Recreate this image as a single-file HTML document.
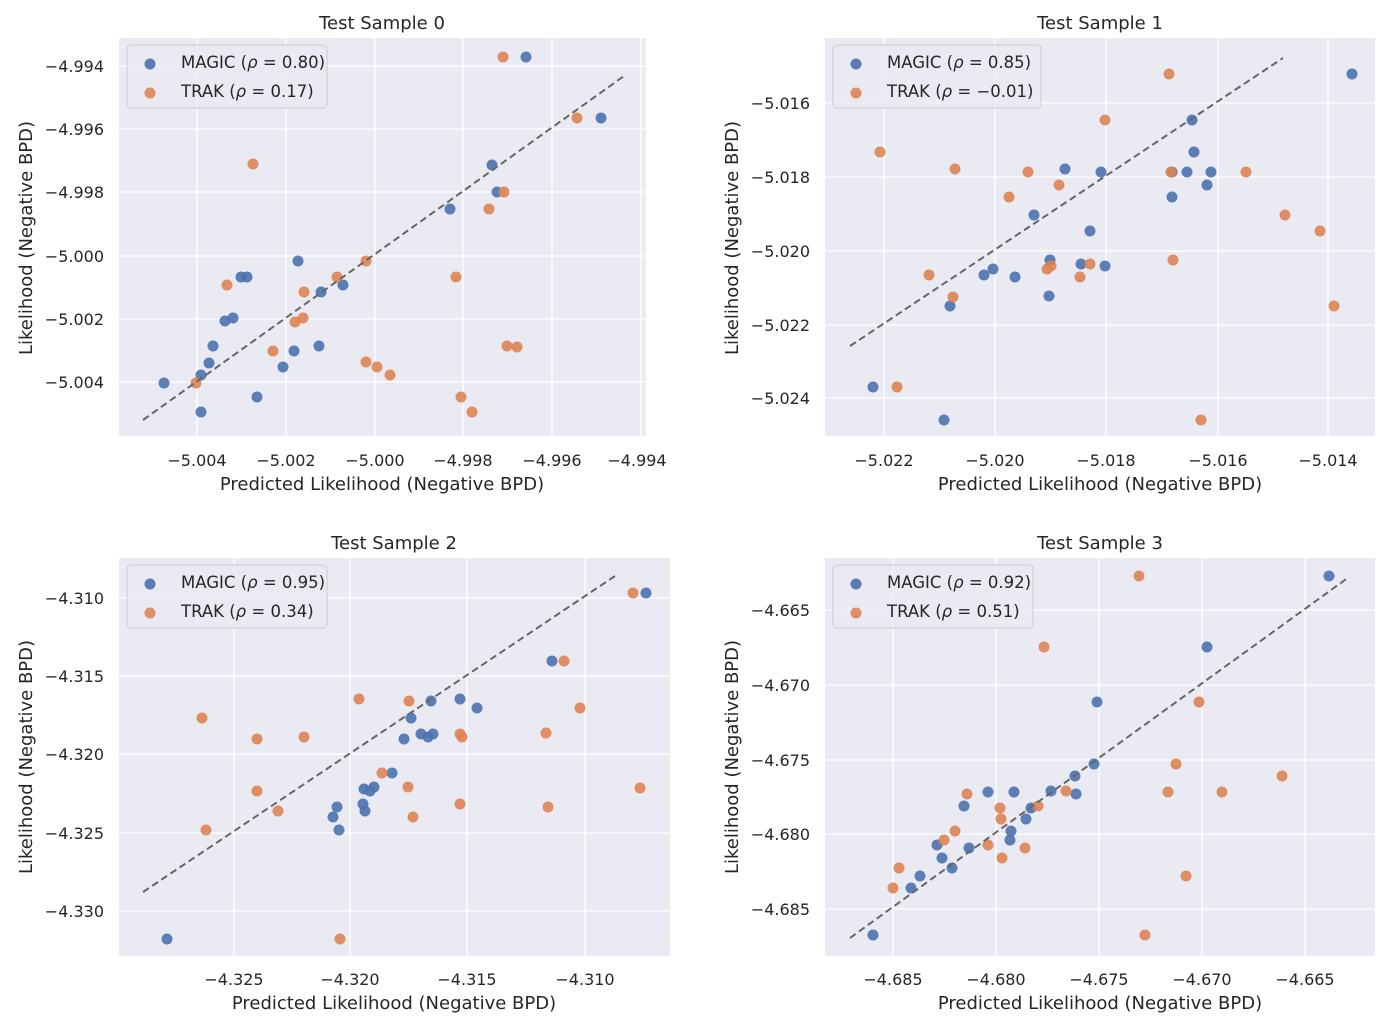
<!DOCTYPE html>
<html><head><meta charset="utf-8"><style>
html,body{margin:0;padding:0;background:#fff;}
svg{display:block;font-family:"DejaVu Sans","Liberation Sans",sans-serif;}
.t{font-size:18px;fill:#262626;text-anchor:middle}
.tk{font-size:16px;fill:#262626}
.bg{fill:#eaeaf2}
.g{stroke:#fff;stroke-width:1.3}
.b{fill:#4c72b0;fill-opacity:0.9}
.o{fill:#dd8452;fill-opacity:0.9}
.d{stroke:#666;stroke-width:2;stroke-dasharray:7,4;fill:none}
.lg{fill:#eaeaf2;stroke:#cccccc;stroke-width:1;fill-opacity:0.8}
.lt{font-size:16.5px;fill:#262626}
</style></head><body>
<svg width="1400" height="1028" viewBox="0 0 1400 1028">
<!-- Panel 0 -->
<rect class="bg" x="119" y="38" width="527" height="398"/>
<g class="g">
<line x1="197" y1="38" x2="197" y2="436"/><line x1="286" y1="38" x2="286" y2="436"/><line x1="375" y1="38" x2="375" y2="436"/><line x1="463" y1="38" x2="463" y2="436"/><line x1="552" y1="38" x2="552" y2="436"/><line x1="641" y1="38" x2="641" y2="436"/>
<line x1="119" y1="66" x2="646" y2="66"/><line x1="119" y1="129" x2="646" y2="129"/><line x1="119" y1="192" x2="646" y2="192"/><line x1="119" y1="256" x2="646" y2="256"/><line x1="119" y1="319" x2="646" y2="319"/><line x1="119" y1="382" x2="646" y2="382"/>
</g>
<g class="tk" text-anchor="middle">
<text x="197" y="466">−5.004</text><text x="286" y="466">−5.002</text><text x="375" y="466">−5.000</text><text x="463" y="466">−4.998</text><text x="552" y="466">−4.996</text><text x="637" y="466">−4.994</text>
</g>
<g class="tk" text-anchor="end">
<text x="104" y="72">−4.994</text><text x="104" y="135">−4.996</text><text x="104" y="198">−4.998</text><text x="104" y="262">−5.000</text><text x="104" y="325">−5.002</text><text x="104" y="388">−5.004</text>
</g>
<text class="t" x="382" y="29">Test Sample 0</text>
<text class="t" x="382" y="490">Predicted Likelihood (Negative BPD)</text>
<text class="t" transform="translate(32,238) rotate(-90)">Likelihood (Negative BPD)</text>
<g class="b">
<circle cx="526" cy="57" r="5.5"/><circle cx="601" cy="118" r="5.5"/><circle cx="492" cy="165" r="5.5"/><circle cx="497" cy="192" r="5.5"/><circle cx="450" cy="209" r="5.5"/><circle cx="298" cy="261" r="5.5"/><circle cx="241" cy="277" r="5.5"/><circle cx="247" cy="277" r="5.5"/><circle cx="343" cy="285" r="5.5"/><circle cx="321" cy="292" r="5.5"/><circle cx="225" cy="321" r="5.5"/><circle cx="233" cy="318" r="5.5"/><circle cx="213" cy="346" r="5.5"/><circle cx="209" cy="363" r="5.5"/><circle cx="201" cy="375" r="5.5"/><circle cx="164" cy="383" r="5.5"/><circle cx="294" cy="351" r="5.5"/><circle cx="319" cy="346" r="5.5"/><circle cx="283" cy="367" r="5.5"/><circle cx="257" cy="397" r="5.5"/><circle cx="201" cy="412" r="5.5"/>
</g>
<g class="o">
<circle cx="503" cy="57" r="5.5"/><circle cx="577" cy="118" r="5.5"/><circle cx="253" cy="164" r="5.5"/><circle cx="504" cy="192" r="5.5"/><circle cx="489" cy="209" r="5.5"/><circle cx="366" cy="261" r="5.5"/><circle cx="337" cy="277" r="5.5"/><circle cx="456" cy="277" r="5.5"/><circle cx="227" cy="285" r="5.5"/><circle cx="304" cy="292" r="5.5"/><circle cx="303" cy="318" r="5.5"/><circle cx="295" cy="322" r="5.5"/><circle cx="273" cy="351" r="5.5"/><circle cx="366" cy="362" r="5.5"/><circle cx="377" cy="367" r="5.5"/><circle cx="390" cy="375" r="5.5"/><circle cx="196" cy="383" r="5.5"/><circle cx="461" cy="397" r="5.5"/><circle cx="472" cy="412" r="5.5"/><circle cx="507" cy="346" r="5.5"/><circle cx="517" cy="347" r="5.5"/>
</g>
<line class="d" x1="143" y1="420" x2="624" y2="76"/>
<rect class="lg" x="127" y="45" width="200" height="63" rx="4"/>
<circle class="b" cx="150" cy="64" r="5.5"/><circle class="o" cx="150" cy="93" r="5.5"/>
<text class="lt" x="181" y="68">MAGIC (<tspan font-style="italic">ρ</tspan> = 0.80)</text>
<text class="lt" x="181" y="97">TRAK (<tspan font-style="italic">ρ</tspan> = 0.17)</text>

<!-- Panel 1 -->
<rect class="bg" x="825" y="38" width="550" height="398"/>
<g class="g">
<line x1="884" y1="38" x2="884" y2="436"/><line x1="995" y1="38" x2="995" y2="436"/><line x1="1106" y1="38" x2="1106" y2="436"/><line x1="1218" y1="38" x2="1218" y2="436"/><line x1="1328" y1="38" x2="1328" y2="436"/>
<line x1="825" y1="103" x2="1375" y2="103"/><line x1="825" y1="177" x2="1375" y2="177"/><line x1="825" y1="251" x2="1375" y2="251"/><line x1="825" y1="325" x2="1375" y2="325"/><line x1="825" y1="398" x2="1375" y2="398"/>
</g>
<g class="tk" text-anchor="middle">
<text x="884" y="466">−5.022</text><text x="995" y="466">−5.020</text><text x="1106" y="466">−5.018</text><text x="1218" y="466">−5.016</text><text x="1328" y="466">−5.014</text>
</g>
<g class="tk" text-anchor="end">
<text x="810" y="109">−5.016</text><text x="810" y="183">−5.018</text><text x="810" y="257">−5.020</text><text x="810" y="331">−5.022</text><text x="810" y="404">−5.024</text>
</g>
<text class="t" x="1100" y="29">Test Sample 1</text>
<text class="t" x="1100" y="490">Predicted Likelihood (Negative BPD)</text>
<text class="t" transform="translate(738,238) rotate(-90)">Likelihood (Negative BPD)</text>
<g class="b">
<circle cx="1352" cy="74" r="5.5"/><circle cx="1192" cy="120" r="5.5"/><circle cx="1194" cy="152" r="5.5"/><circle cx="1172" cy="172" r="5.5"/><circle cx="1187" cy="172" r="5.5"/><circle cx="1211" cy="172" r="5.5"/><circle cx="1101" cy="172" r="5.5"/><circle cx="1065" cy="169" r="5.5"/><circle cx="1172" cy="197" r="5.5"/><circle cx="1207" cy="185" r="5.5"/><circle cx="1034" cy="215" r="5.5"/><circle cx="1090" cy="231" r="5.5"/><circle cx="1050" cy="260" r="5.5"/><circle cx="993" cy="269" r="5.5"/><circle cx="1081" cy="264" r="5.5"/><circle cx="1105" cy="266" r="5.5"/><circle cx="984" cy="275" r="5.5"/><circle cx="1015" cy="277" r="5.5"/><circle cx="1049" cy="296" r="5.5"/><circle cx="950" cy="306" r="5.5"/><circle cx="873" cy="387" r="5.5"/><circle cx="944" cy="420" r="5.5"/>
</g>
<g class="o">
<circle cx="1169" cy="74" r="5.5"/><circle cx="1105" cy="120" r="5.5"/><circle cx="880" cy="152" r="5.5"/><circle cx="955" cy="169" r="5.5"/><circle cx="1028" cy="172" r="5.5"/><circle cx="1171" cy="172" r="5.5"/><circle cx="1246" cy="172" r="5.5"/><circle cx="1059" cy="185" r="5.5"/><circle cx="1009" cy="197" r="5.5"/><circle cx="1285" cy="215" r="5.5"/><circle cx="1320" cy="231" r="5.5"/><circle cx="1173" cy="260" r="5.5"/><circle cx="1051" cy="266" r="5.5"/><circle cx="1047" cy="269" r="5.5"/><circle cx="1090" cy="264" r="5.5"/><circle cx="929" cy="275" r="5.5"/><circle cx="1080" cy="277" r="5.5"/><circle cx="953" cy="297" r="5.5"/><circle cx="1334" cy="306" r="5.5"/><circle cx="897" cy="387" r="5.5"/><circle cx="1201" cy="420" r="5.5"/>
</g>
<line class="d" x1="850" y1="346" x2="1283" y2="58"/>
<rect class="lg" x="833" y="45" width="208" height="63" rx="4"/>
<circle class="b" cx="856" cy="64" r="5.5"/><circle class="o" cx="856" cy="93" r="5.5"/>
<text class="lt" x="887" y="68">MAGIC (<tspan font-style="italic">ρ</tspan> = 0.85)</text>
<text class="lt" x="887" y="97">TRAK (<tspan font-style="italic">ρ</tspan> = −0.01)</text>

<!-- Panel 2 -->
<rect class="bg" x="119" y="558" width="551" height="398"/>
<g class="g">
<line x1="234" y1="558" x2="234" y2="956"/><line x1="350" y1="558" x2="350" y2="956"/><line x1="467" y1="558" x2="467" y2="956"/><line x1="585" y1="558" x2="585" y2="956"/>
<line x1="119" y1="598" x2="670" y2="598"/><line x1="119" y1="676" x2="670" y2="676"/><line x1="119" y1="754" x2="670" y2="754"/><line x1="119" y1="833" x2="670" y2="833"/><line x1="119" y1="911" x2="670" y2="911"/>
</g>
<g class="tk" text-anchor="middle">
<text x="234" y="985">−4.325</text><text x="350" y="985">−4.320</text><text x="467" y="985">−4.315</text><text x="585" y="985">−4.310</text>
</g>
<g class="tk" text-anchor="end">
<text x="104" y="604">−4.310</text><text x="104" y="682">−4.315</text><text x="104" y="760">−4.320</text><text x="104" y="839">−4.325</text><text x="104" y="917">−4.330</text>
</g>
<text class="t" x="394" y="549">Test Sample 2</text>
<text class="t" x="394" y="1009">Predicted Likelihood (Negative BPD)</text>
<text class="t" transform="translate(32,757) rotate(-90)">Likelihood (Negative BPD)</text>
<g class="b">
<circle cx="646" cy="593" r="5.5"/><circle cx="552" cy="661" r="5.5"/><circle cx="431" cy="701" r="5.5"/><circle cx="460" cy="699" r="5.5"/><circle cx="477" cy="708" r="5.5"/><circle cx="411" cy="718" r="5.5"/><circle cx="433" cy="734" r="5.5"/><circle cx="421" cy="734" r="5.5"/><circle cx="428" cy="737" r="5.5"/><circle cx="404" cy="739" r="5.5"/><circle cx="392" cy="773" r="5.5"/><circle cx="374" cy="787" r="5.5"/><circle cx="364" cy="789" r="5.5"/><circle cx="370" cy="791" r="5.5"/><circle cx="363" cy="804" r="5.5"/><circle cx="337" cy="807" r="5.5"/><circle cx="333" cy="817" r="5.5"/><circle cx="339" cy="830" r="5.5"/><circle cx="365" cy="811" r="5.5"/><circle cx="167" cy="939" r="5.5"/>
</g>
<g class="o">
<circle cx="633" cy="593" r="5.5"/><circle cx="564" cy="661" r="5.5"/><circle cx="202" cy="718" r="5.5"/><circle cx="359" cy="699" r="5.5"/><circle cx="409" cy="701" r="5.5"/><circle cx="580" cy="708" r="5.5"/><circle cx="257" cy="739" r="5.5"/><circle cx="304" cy="737" r="5.5"/><circle cx="460" cy="734" r="5.5"/><circle cx="462" cy="737" r="5.5"/><circle cx="546" cy="733" r="5.5"/><circle cx="382" cy="773" r="5.5"/><circle cx="408" cy="787" r="5.5"/><circle cx="257" cy="791" r="5.5"/><circle cx="460" cy="804" r="5.5"/><circle cx="548" cy="807" r="5.5"/><circle cx="278" cy="811" r="5.5"/><circle cx="413" cy="817" r="5.5"/><circle cx="206" cy="830" r="5.5"/><circle cx="640" cy="788" r="5.5"/><circle cx="340" cy="939" r="5.5"/>
</g>
<line class="d" x1="143" y1="892" x2="615" y2="576"/>
<rect class="lg" x="127" y="565" width="200" height="63" rx="4"/>
<circle class="b" cx="150" cy="584" r="5.5"/><circle class="o" cx="150" cy="613" r="5.5"/>
<text class="lt" x="181" y="588">MAGIC (<tspan font-style="italic">ρ</tspan> = 0.95)</text>
<text class="lt" x="181" y="617">TRAK (<tspan font-style="italic">ρ</tspan> = 0.34)</text>

<!-- Panel 3 -->
<rect class="bg" x="825" y="558" width="550" height="398"/>
<g class="g">
<line x1="893" y1="558" x2="893" y2="956"/><line x1="996" y1="558" x2="996" y2="956"/><line x1="1099" y1="558" x2="1099" y2="956"/><line x1="1202" y1="558" x2="1202" y2="956"/><line x1="1305" y1="558" x2="1305" y2="956"/>
<line x1="825" y1="610" x2="1375" y2="610"/><line x1="825" y1="685" x2="1375" y2="685"/><line x1="825" y1="760" x2="1375" y2="760"/><line x1="825" y1="834" x2="1375" y2="834"/><line x1="825" y1="909" x2="1375" y2="909"/>
</g>
<g class="tk" text-anchor="middle">
<text x="893" y="985">−4.685</text><text x="996" y="985">−4.680</text><text x="1099" y="985">−4.675</text><text x="1202" y="985">−4.670</text><text x="1305" y="985">−4.665</text>
</g>
<g class="tk" text-anchor="end">
<text x="810" y="616">−4.665</text><text x="810" y="691">−4.670</text><text x="810" y="766">−4.675</text><text x="810" y="840">−4.680</text><text x="810" y="915">−4.685</text>
</g>
<text class="t" x="1100" y="549">Test Sample 3</text>
<text class="t" x="1100" y="1009">Predicted Likelihood (Negative BPD)</text>
<text class="t" transform="translate(738,757) rotate(-90)">Likelihood (Negative BPD)</text>
<g class="b">
<circle cx="1329" cy="576" r="5.5"/><circle cx="1207" cy="647" r="5.5"/><circle cx="1097" cy="702" r="5.5"/><circle cx="1094" cy="764" r="5.5"/><circle cx="1075" cy="776" r="5.5"/><circle cx="1076" cy="794" r="5.5"/><circle cx="1051" cy="791" r="5.5"/><circle cx="1014" cy="792" r="5.5"/><circle cx="988" cy="792" r="5.5"/><circle cx="1031" cy="808" r="5.5"/><circle cx="1026" cy="819" r="5.5"/><circle cx="1011" cy="831" r="5.5"/><circle cx="1010" cy="840" r="5.5"/><circle cx="964" cy="806" r="5.5"/><circle cx="969" cy="848" r="5.5"/><circle cx="937" cy="845" r="5.5"/><circle cx="942" cy="858" r="5.5"/><circle cx="952" cy="868" r="5.5"/><circle cx="920" cy="876" r="5.5"/><circle cx="911" cy="888" r="5.5"/><circle cx="873" cy="935" r="5.5"/>
</g>
<g class="o">
<circle cx="1139" cy="576" r="5.5"/><circle cx="1044" cy="647" r="5.5"/><circle cx="1199" cy="702" r="5.5"/><circle cx="1176" cy="764" r="5.5"/><circle cx="1282" cy="776" r="5.5"/><circle cx="1168" cy="792" r="5.5"/><circle cx="1222" cy="792" r="5.5"/><circle cx="1066" cy="791" r="5.5"/><circle cx="1038" cy="806" r="5.5"/><circle cx="1000" cy="808" r="5.5"/><circle cx="1001" cy="819" r="5.5"/><circle cx="967" cy="794" r="5.5"/><circle cx="955" cy="831" r="5.5"/><circle cx="944" cy="840" r="5.5"/><circle cx="988" cy="845" r="5.5"/><circle cx="1025" cy="848" r="5.5"/><circle cx="1002" cy="858" r="5.5"/><circle cx="1186" cy="876" r="5.5"/><circle cx="899" cy="868" r="5.5"/><circle cx="893" cy="888" r="5.5"/><circle cx="1145" cy="935" r="5.5"/>
</g>
<line class="d" x1="850" y1="938" x2="1349" y2="577"/>
<rect class="lg" x="833" y="565" width="200" height="63" rx="4"/>
<circle class="b" cx="856" cy="584" r="5.5"/><circle class="o" cx="856" cy="613" r="5.5"/>
<text class="lt" x="887" y="588">MAGIC (<tspan font-style="italic">ρ</tspan> = 0.92)</text>
<text class="lt" x="887" y="617">TRAK (<tspan font-style="italic">ρ</tspan> = 0.51)</text>
</svg>
</body></html>
